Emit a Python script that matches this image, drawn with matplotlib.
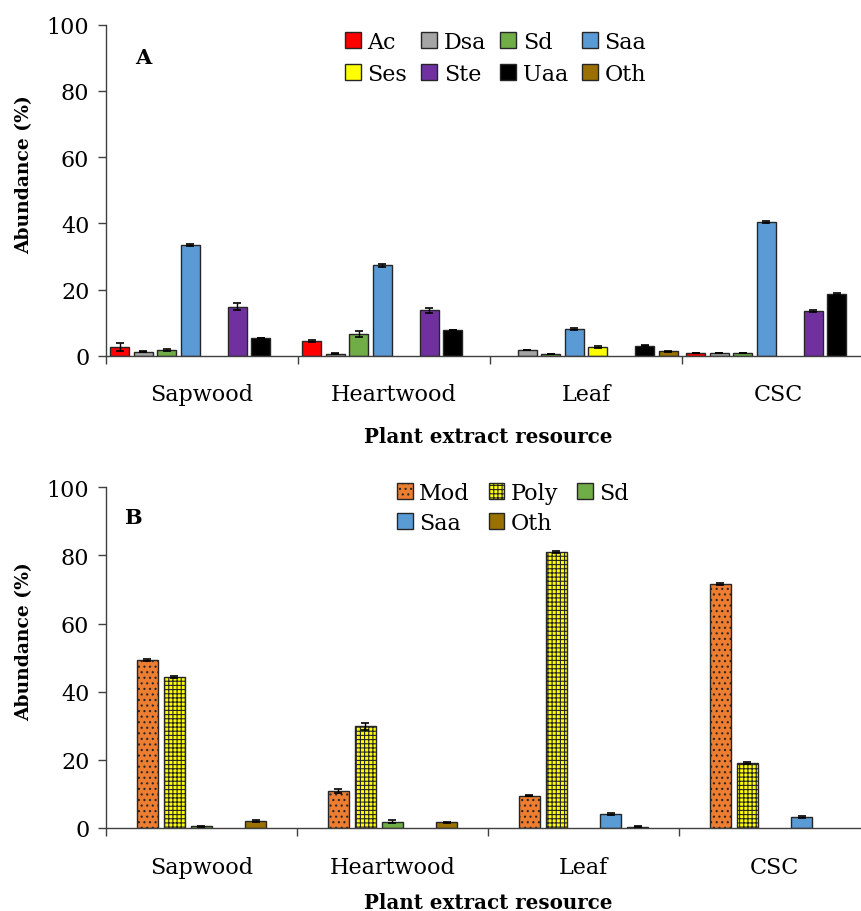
import numpy as np
import matplotlib

matplotlib.use("Agg")
import matplotlib.pyplot as plt
from matplotlib.patches import Patch

plt.rcParams["font.family"] = ["DejaVu Serif"]
plt.rcParams["hatch.linewidth"] = 0.8

CATEGORIES = ["Sapwood", "Heartwood", "Leaf", "CSC"]

# panel A: compound classes
A_SERIES = ["Ac", "Dsa", "Sd", "Saa", "Ses", "Ste", "Uaa", "Oth"]
A_COLORS = ["#ff0000", "#a5a5a5", "#70ad47", "#5b9bd5", "#ffff00", "#7030a0", "#000000", "#9a7000"]
A_VALUES = [
    [2.7, 4.3, 0.0, 0.8],     # Ac
    [1.2, 0.6, 1.7, 0.8],     # Dsa
    [1.6, 6.5, 0.5, 0.8],     # Sd
    [33.4, 27.3, 8.0, 40.5],  # Saa
    [0.0, 0.0, 2.5, 0.0],     # Ses
    [14.8, 13.7, 0.0, 13.6],  # Ste
    [5.3, 7.8, 3.0, 18.5],    # Uaa
    [0.0, 0.0, 1.3, 0.0],     # Oth
]
A_ERRORS = [
    [1.2, 0.3, 0.0, 0.1],
    [0.2, 0.1, 0.1, 0.1],
    [0.3, 0.9, 0.1, 0.1],
    [0.4, 0.4, 0.3, 0.3],
    [0.0, 0.0, 0.3, 0.0],
    [1.0, 0.8, 0.0, 0.3],
    [0.1, 0.1, 0.1, 0.3],
    [0.0, 0.0, 0.1, 0.0],
]

# panel B: compound groups
B_SERIES = ["Mod", "Poly", "Sd", "Saa", "Oth"]
B_COLORS = ["#ed7d31", "#ffff00", "#70ad47", "#5b9bd5", "#9a7000"]
B_HATCHES = ["...", "++++", None, None, None]
B_VALUES = [
    [49.3, 10.9, 9.5, 71.6],  # Mod
    [44.3, 29.8, 80.9, 19.0],  # Poly
    [0.5, 1.9, 0.0, 0.0],     # Sd
    [0.0, 0.0, 4.2, 3.3],     # Saa
    [2.1, 1.7, 0.4, 0.0],     # Oth
]
B_ERRORS = [
    [0.3, 0.6, 0.2, 0.3],
    [0.3, 0.9, 0.3, 0.3],
    [0.2, 0.4, 0.0, 0.0],
    [0.0, 0.0, 0.3, 0.3],
    [0.2, 0.2, 0.1, 0.0],
]

EDGE = "#262626"
TICK_FS = 16


def draw_panel(ax, series, colors, values, errors, step, width, hatches=None):
    x = np.arange(len(CATEGORIES))
    n = len(series)
    handles = []
    for i, name in enumerate(series):
        vals = np.array(values[i])
        errs = np.array(errors[i])
        pos = x + (i - (n - 1) / 2) * step
        keep = vals > 0
        hatch = hatches[i] if hatches else None
        ax.bar(pos[keep], vals[keep], width=width, color=colors[i], edgecolor=EDGE,
               linewidth=1.0, hatch=hatch, zorder=2)
        ax.errorbar(pos[keep], vals[keep], yerr=errs[keep], fmt="none", ecolor="black",
                    elinewidth=1.0, capsize=3, capthick=1.2, zorder=3)
        handles.append(Patch(facecolor=colors[i], edgecolor=EDGE, hatch=hatch, linewidth=1.0, label=name))

    ax.set_xlim(-0.5, 3.5)
    ax.set_ylim(0, 100)
    ax.set_yticks(range(0, 101, 20))
    ax.set_xticks(x)
    ax.set_xticklabels(CATEGORIES)
    ax.set_xticks(np.arange(-0.5, 3.6, 1.0), minor=True)
    ax.tick_params(axis="x", which="major", length=0, labelsize=TICK_FS, pad=20)
    ax.tick_params(axis="x", which="minor", length=6, width=1.0, color="#404040", direction="out")
    ax.tick_params(axis="y", length=6, width=1.0, color="#404040", labelsize=TICK_FS, pad=6)
    for side in ["top", "right"]:
        ax.spines[side].set_visible(False)
    for side in ["left", "bottom"]:
        ax.spines[side].set_color("#404040")
        ax.spines[side].set_linewidth(1.0)
    return handles


fig = plt.figure(figsize=(8.62, 9.12), dpi=100)

ax_a = fig.add_axes([106 / 862, 1 - 356.7 / 912, 768 / 862, 331 / 912])
h_a = draw_panel(ax_a, A_SERIES, A_COLORS, A_VALUES, A_ERRORS, step=0.1224, width=0.099)
order_a = [0, 4, 1, 5, 2, 6, 3, 7]
ax_a.legend([h_a[k] for k in order_a], [A_SERIES[k] for k in order_a], ncol=4,
            loc="upper left", bbox_to_anchor=(345 / 862, 1 - 32 / 912), bbox_transform=fig.transFigure,
            frameon=False, fontsize=TICK_FS, handlelength=0.7, handleheight=0.7, handletextpad=0.3,
            columnspacing=0.65, labelspacing=0.45, borderpad=0, borderaxespad=0)
ax_a.text(143 / 862, 1 - 58 / 912, "A", transform=fig.transFigure, fontsize=15,
          fontweight="bold", ha="center", va="center")

ax_b = fig.add_axes([106 / 862, 1 - 829 / 912, 764 / 862, 340.7 / 912])
h_b = draw_panel(ax_b, B_SERIES, B_COLORS, B_VALUES, B_ERRORS, step=0.1414, width=0.114, hatches=B_HATCHES)
order_b = [0, 3, 1, 4, 2]
ax_b.legend([h_b[k] for k in order_b], [B_SERIES[k] for k in order_b], ncol=3,
            loc="upper left", bbox_to_anchor=(397 / 862, 1 - 483 / 912), bbox_transform=fig.transFigure,
            frameon=False, fontsize=TICK_FS, handlelength=0.7, handleheight=0.7, handletextpad=0.3,
            columnspacing=0.85, labelspacing=0.35, borderpad=0, borderaxespad=0)
ax_b.text(133 / 862, 1 - 518 / 912, "B", transform=fig.transFigure, fontsize=15,
          fontweight="bold", ha="center", va="center")

for ax, ylab_y, xlab_y in [(ax_a, 175, 437), (ax_b, 642, 903)]:
    fig.text(24 / 862, 1 - ylab_y / 912, "Abundance (%)", rotation=90, fontsize=13.5,
             fontweight="bold", ha="center", va="center")
    fig.text(488 / 862, 1 - xlab_y / 912, "Plant extract resource", fontsize=14.3,
             fontweight="bold", ha="center", va="center")

fig.savefig("out.png", dpi=100)
